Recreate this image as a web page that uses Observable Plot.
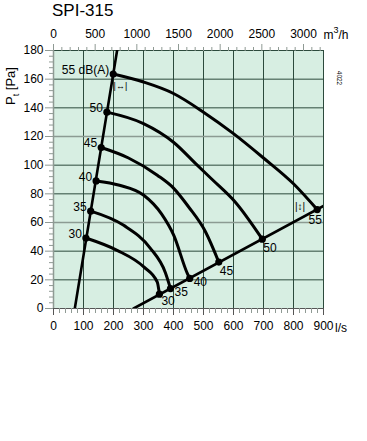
<!DOCTYPE html>
<html><head><meta charset="utf-8">
<script src="https://cdn.jsdelivr.net/npm/d3@7"></script>
<script src="https://cdn.jsdelivr.net/npm/@observablehq/plot@0.6"></script>
<style>
body{margin:0;background:#fff;font-family:"Liberation Sans",Arial,sans-serif}
#wrap{position:relative;width:367px;height:441px}
#title{position:absolute;left:52px;top:1px;font-size:17px;color:#000;line-height:20px}
#wrap svg{position:absolute;left:0;top:0}
</style>
</head><body>
<div id="wrap"><div id="title">SPI-315</div></div>
<script>
// axis ticks
const xTicks = [0,100,200,300,400,500,600,700,800,900];          // l/s
const yTicks = [0,20,40,60,80,100,120,140,160,180];              // Pa
const m3hTicks = [0,500,1000,1500,2000,2500,3000];               // m3/h
const m3hMinor = [100,200,300,400,600,700,800,900,1100,1200,1300,1400,1600,1700,1800,1900,2100,2200,2300,2400,2600,2700,2800,2900,3100,3200];
const xMinor = d3.range(0, 901, 20).filter(v => v % 100 !== 0);
const yMinor = d3.range(0, 181, 4).filter(v => v % 20 !== 0);
const grayY = [60,120];

// system lines [l/s, Pa]
const leftLine = [[71,0],[212,180]];
const rightLine = [[267,0],[900,71.5]];

// sound level curves (dB(A)) [l/s, Pa]
const levels = [30,35,40,45,50,55];
const c30 = [[108,49.2],[212,40.6],[301,29],[346,18.4],[353,10]];
const c35 = [[124,67.9],[234,58],[323,42],[373,25],[390,13.9]];
const c40 = [[142,89],[220,86],[301,79],[360,66],[401,51],[446,24.5],[454,21]];
const c45 = [[159,112.3],[250,105],[346,93],[400,84],[450,71],[507,53.4],[551,32.4]];
const c50 = [[178,137],[300,129],[400,116],[479,100],[529,90],[607,74],[696,48.4]];
const c55 = [[199,163.6],[300,158],[400,150],[500,137],[600,122],[700,105],[800,87],[879,69]];
const curves = [c30,c35,c40,c45,c50,c55];

// end points of each curve
const leftPts = curves.map((c,i) => ({x:c[0][0], y:c[0][1], level:levels[i]}));
const rightPts = curves.map((c,i) => ({x:c[c.length-1][0], y:c[c.length-1][1], level:levels[i]}));

// tolerance markers
const markH = [[223,155]];
const markV = [[822,71]];

const grid = "#2c4a3c";
const axisGray = "#8f9a94";

const chart = Plot.plot({
  width: 367, height: 441,
  marginLeft: 53, marginRight: 44, marginTop: 50, marginBottom: 133,
  style: {fontFamily: "Liberation Sans, Arial, sans-serif", fontSize: "12px", background: "transparent"},
  x: {domain: [0,900]},
  y: {domain: [0,180]},
  marks: [
    Plot.frame({fill: "#d7eee2", stroke: null}),
    Plot.ruleX(xTicks.filter(v => v !== 0), {stroke: grid, strokeWidth: 1}),
    Plot.ruleY(yTicks.filter(v => v !== 0 && !grayY.includes(v)), {stroke: grid, strokeWidth: 1}),
    Plot.ruleY(grayY, {stroke: "#8c9b93", strokeWidth: 1.6}),
    Plot.ruleX([0], {stroke: axisGray, strokeWidth: 1.5}),
    Plot.ruleY([0], {stroke: "#555", strokeWidth: 1.2}),
    // axes
    Plot.axisY(yTicks, {anchor: "left", tickSize: 8, tickPadding: 2, stroke: axisGray, fontSize: 12, label: null, color: "#000"}),
    Plot.axisY(yMinor, {anchor: "left", tickSize: 4, tickFormat: () => "", stroke: axisGray, label: null}),
    Plot.axisX(xTicks, {anchor: "bottom", tickSize: 7, tickPadding: 6, stroke: "#555", fontSize: 12, label: null}),
    Plot.axisX(xMinor, {anchor: "bottom", tickSize: 5, tickFormat: () => "", stroke: axisGray, label: null}),
    Plot.axisX(m3hTicks.map(v => v/3.6), {anchor: "top", tickSize: 7, tickPadding: 6, stroke: axisGray, fontSize: 12, label: null, tickFormat: d => String(Math.round(d*3.6))}),
    Plot.axisX(m3hMinor.map(v => v/3.6), {anchor: "top", tickSize: 4, tickFormat: () => "", stroke: axisGray, label: null}),
    // system lines
    Plot.line(leftLine, {stroke: "#000", strokeWidth: 2.6, clip: true}),
    Plot.line(rightLine, {stroke: "#000", strokeWidth: 2.6, clip: true}),
    // curves
    ...curves.map(c => Plot.line(c, {stroke: "#000", strokeWidth: 3, curve: "monotone-x"})),
    Plot.dot(leftPts, {x: "x", y: "y", r: 3.6, fill: "#000", stroke: null}),
    Plot.dot(rightPts, {x: "x", y: "y", r: 3.6, fill: "#000", stroke: null}),
    // labels left
    Plot.text(leftPts, {x: "x", y: "y", text: d => d.level === 55 ? "55 dB(A)" : String(d.level), textAnchor: "end", dx: -4, dy: -4, fontSize: 12, fill: "#000"}),
    // labels right
    Plot.text(rightPts.filter(d => d.level === 30), {x: "x", y: "y", text: d => String(d.level), textAnchor: "start", dx: 2, dy: 7, fontSize: 12}),
    Plot.text(rightPts.filter(d => d.level === 35 || d.level === 40), {x: "x", y: "y", text: d => String(d.level), textAnchor: "start", dx: 4, dy: 4, fontSize: 12}),
    Plot.text(rightPts.filter(d => d.level === 45 || d.level === 50), {x: "x", y: "y", text: d => String(d.level), textAnchor: "start", dx: 1, dy: 9, fontSize: 12}),
    Plot.text(rightPts.filter(d => d.level === 55), {x: "x", y: "y", text: d => String(d.level), textAnchor: "middle", dx: -2, dy: 11, fontSize: 12}),
    // tolerance markers
    Plot.text(markH, {text: () => "|↔|", fontSize: 9, fill: "#000"}),
    Plot.text(markV, {text: () => "|↕|", fontSize: 10, fill: "#000"})
  ]
});
document.getElementById("wrap").appendChild(chart);

const svg = d3.select(chart);
// y-axis title
const yl = svg.append("text").attr("transform", "translate(15,86) rotate(-90)")
  .attr("text-anchor", "middle").attr("font-size", 13).attr("fill", "#000");
yl.append("tspan").text("P");
yl.append("tspan").attr("font-size", 9).attr("dy", 4).text("t");
yl.append("tspan").attr("dy", -4).text(" [Pa]");
// top unit
const mu = svg.append("text").attr("x", 336).attr("y", 39).attr("font-size", 12).attr("fill", "#000");
mu.append("tspan").text("m");
mu.append("tspan").attr("font-size", 9).attr("dy", -6).text("3");
mu.append("tspan").attr("dy", 6).text("/h");
// bottom unit
svg.append("text").attr("x", 341).attr("y", 332).attr("font-size", 12).attr("fill", "#000").text("l/s");
// drawing number
svg.append("text").attr("transform", "translate(337,78) rotate(90)").attr("font-size", 6.5).attr("fill", "#000").text("4022");
</script>
</body></html>
